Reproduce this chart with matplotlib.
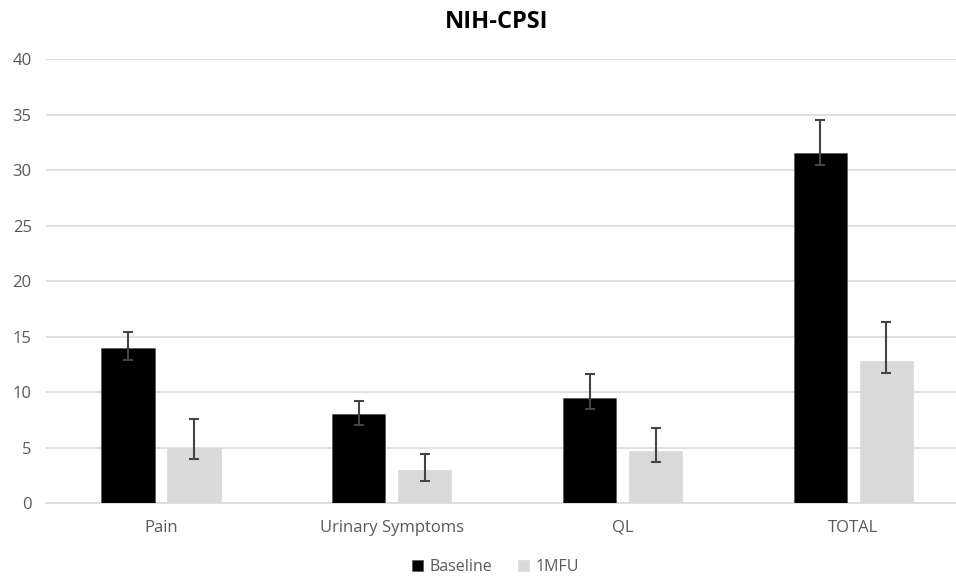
import matplotlib.pyplot as plt
import numpy as np

categories = ['Pain', 'Urinary Symptoms', 'QL', 'TOTAL']
baseline = [14.0, 8.0, 9.5, 31.5]
mfu = [5.0, 3.0, 4.7, 12.8]
# asymmetric error bars: (lower, upper)
baseline_err_lo = [1.1, 1.0, 1.0, 1.0]
baseline_err_hi = [1.4, 1.2, 2.1, 3.0]
mfu_err_lo = [1.0, 1.0, 0.95, 1.05]
mfu_err_hi = [2.6, 1.4, 2.1, 3.5]
yticks = [0, 5, 10, 15, 20, 25, 30, 35, 40]

plt.rcParams['font.family'] = ['Open Sans', 'DejaVu Sans']

fig = plt.figure(figsize=(9.56, 5.77), dpi=100)
ax = fig.add_axes([0.0477, 0.128, 0.9657, 0.7695])

x = np.arange(len(categories))
w = 0.23
off = 0.143
err_kw = dict(ecolor='#444444', elinewidth=1.5, capsize=3.8, capthick=1.5)

ax.bar(x - off, baseline, w, color='black', edgecolor='#555555', linewidth=0.5,
       yerr=[baseline_err_lo, baseline_err_hi], error_kw=err_kw, label='Baseline', zorder=3)
ax.bar(x + off, mfu, w, color='#d9d9d9', edgecolor='#d9d9d9', linewidth=0.5,
       yerr=[mfu_err_lo, mfu_err_hi], error_kw=err_kw, label='1MFU', zorder=3)

ax.set_xlim(-0.5, 3.5)
ax.set_ylim(0, 40)
ax.set_yticks(yticks)
ax.set_xticks(x)
ax.set_xticklabels(categories)
ax.yaxis.grid(True, color='#d9d9d9', linewidth=1.2, zorder=0)
ax.set_axisbelow(True)
for s in ['top', 'right', 'left']:
    ax.spines[s].set_visible(False)
ax.spines['bottom'].set_color('#d9d9d9')
ax.spines['bottom'].set_linewidth(1.2)
ax.tick_params(axis='both', length=0, colors='#595959', labelsize=12)
ax.tick_params(axis='y', pad=10)
ax.tick_params(axis='x', pad=12)

fig.text(0.52, 0.962, 'NIH-CPSI', ha='center', va='center', fontsize=17,
         fontweight='bold', color='black')

fig.legend(loc='center', bbox_to_anchor=(0.518, 0.017), ncol=2, frameon=False,
           fontsize=11.5, labelcolor='#595959', handlelength=0.7, handleheight=0.7,
           handletextpad=0.4, columnspacing=1.6)

fig.savefig('out.png', dpi=100)
